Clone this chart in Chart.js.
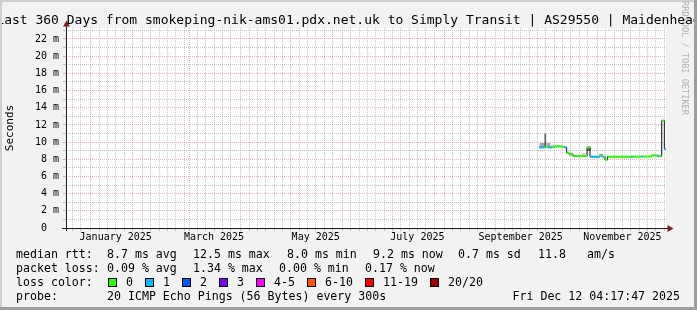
<!DOCTYPE html>
<html><head><meta charset="utf-8">
<script src="https://cdn.jsdelivr.net/npm/chart.js@4.4.1/dist/chart.umd.min.js"></script>
<style>html,body{margin:0;padding:0;background:#f2f2f2;overflow:hidden}#wrap{width:697px;height:310px;position:relative}canvas{display:block}</style>
</head><body><div id="wrap"><canvas id="c" width="697" height="310"></canvas></div>
<script>
// ---------- content ----------
const titleText = 'Last 360 Days from smokeping-nik-ams01.pdx.net.uk to Simply Transit | AS29550 | Maidenhead';
const yAxisTitle = 'Seconds';
const rangeStart = '2024-12-17T04:17:47Z';
const rangeEnd = '2025-12-12T04:17:47Z';
const monthStarts = ['2025-01-01','2025-02-01','2025-03-01','2025-04-01','2025-05-01','2025-06-01','2025-07-01','2025-08-01','2025-09-01','2025-10-01','2025-11-01','2025-12-01'];
const minorGridDays = [6, 11, 16, 21, 26];
const monthLabels = ['January 2025','March 2025','May 2025','July 2025','September 2025','November 2025'];
const monthLabelDates = ['2025-01-16','2025-03-16','2025-05-16','2025-07-16','2025-09-16','2025-11-16'];
const yTickValues = [0,2,4,6,8,10,12,14,16,18,20,22];
const yTickLabels = ['0\u00a0\u00a0','2 m','4 m','6 m','8 m','10 m','12 m','14 m','16 m','18 m','20 m','22 m'];
const yMaxMs = 23.28;

// median rtt (ms) per sample, and lost pings (of 20)
const sampleTimes = ['2025-09-27T00:00','2025-09-30T14:00','2025-10-02T09:00','2025-10-04T19:00','2025-10-06T14:00','2025-10-10T19:00','2025-10-12T07:00','2025-10-13T14:00','2025-10-15T00:00','2025-10-17T09:00','2025-10-25T19:00','2025-10-27T14:00','2025-11-02T14:00','2025-11-04T09:00','2025-11-05T14:00','2025-11-07T02:00','2025-11-21T04:00','2025-11-22T02:00','2025-11-27T04:00','2025-11-28T09:00','2025-12-03T19:00','2025-12-06T19:00','2025-12-07T23:30','2025-12-09T14:30','2025-12-11T04:00'];
const medianMs = [9.38,9.42,9.38,9.44,9.50,9.46,9.38,8.75,8.58,8.38,9.35,8.30,8.34,8.30,7.95,8.30,8.30,8.31,8.32,8.32,8.45,8.40,8.35,12.5,9.2];
const lossCount = [1,0,1,0,0,0,1,0,0,0,0,1,0,1,0,0,1,0,1,0,0,1,0,0,1];

// smoke (spread of pings)
const smokeTimes = ['2025-09-28T11:30','2025-09-29T16:20','2025-10-02T16:20','2025-10-05T09:00','2025-10-07T04:20','2025-10-16T04:20','2025-10-23T16:20','2025-10-26T20:40','2025-11-03T04:20'];
const smokeLow  = [9.40,9.40,9.40,9.46,9.46,8.46,8.38,9.00,8.38];
const smokeHigh = [9.86,9.86,9.86,9.66,9.66,8.77,8.70,9.45,8.61];
const smokeCount = [6,6,6,3,3,3,3,10,6];
const spikeTimes = ['2025-09-30T18:15'];
const spikeLow = [9.40];
const spikeHigh = [10.94];

// legend / stats
const rttStats = ['8.7','12.5','8.0','9.2','0.7','11.8'];
const lossStats = ['0.09','1.34','0.00','0.17'];
const lossLegendLabels = ['0','1','2','3','4-5','6-10','11-19','20/20'];
const lossBuckets = [[0,0],[1,1],[2,2],[3,3],[4,5],[6,10],[11,19],[20,20]];
const lossColors = ['#26ff00','#00b8ff','#0059ff','#7e00ff','#ff00ff','#ff5500','#ff0000','#a10000'];
const probeText = '20 ICMP Echo Pings (56 Bytes) every 300s';
const stampText = 'Fri Dec 12 04:17:47 2025';

// ---------- build ----------
const T = s => Date.parse(s.length === 10 ? s + 'T00:00:00Z' : (s.endsWith('Z') ? s : s + ':00Z'));
const xMin = T(rangeStart), xMax = T(rangeEnd);
const majorX = monthStarts.map(T);
const labelX = monthLabelDates.map(T);
const minorX = [];
['2024-12-01'].concat(monthStarts).forEach(m => {
  const y = +m.slice(0, 4), mo = +m.slice(5, 7) - 1;
  minorGridDays.forEach(d => {
    const v = Date.UTC(y, mo, d);
    if (v > xMin && v < xMax) minorX.push(v);
  });
});
const minorY = [];
for (let v = 1; v < yMaxMs; v += 2) minorY.push(v);

function lossColor(n) {
  for (let i = 0; i < lossBuckets.length; i++) if (n >= lossBuckets[i][0] && n <= lossBuckets[i][1]) return lossColors[i];
  return '#000';
}
function smokeShade(n) { return n >= 9 ? '#6e6e6e' : n >= 5 ? '#a4a4a4' : '#cdcdcd'; }

const ts = sampleTimes.map(T);
const connectData = ts.map((t, i) => ({x: t, y: medianMs[i]}));
connectData.push({x: xMax, y: medianMs[medianMs.length - 1]});
const pieceData = [];
ts.forEach((t, i) => {
  const e = i + 1 < ts.length ? ts[i + 1] : xMax;
  pieceData.push({x: t, y: medianMs[i]}, {x: e, y: medianMs[i]}, {x: e, y: null});
});
const smokeData = smokeTimes.map((t, i) => ({x: T(t), y: [smokeLow[i], smokeHigh[i]]}));
const spikeData = spikeTimes.map((t, i) => ({x: T(t), y: [spikeLow[i], spikeHigh[i]]}));

const FONT = '"DejaVu Sans Mono", "Liberation Mono", monospace';
const MINOR = 'rgba(143,143,143,0.5)';
const MAJOR = 'rgba(222,79,79,0.42)';

const decor = {
  id: 'decor',
  beforeDraw(chart) {
    const ctx = chart.ctx, a = chart.chartArea;
    ctx.save();
    ctx.fillStyle = '#f2f2f2'; ctx.fillRect(0, 0, chart.width, chart.height);
    ctx.fillStyle = '#ffffff'; ctx.fillRect(a.left, a.top, a.right - a.left, a.bottom - a.top);
    ctx.restore();
  },
  afterDraw(chart) {
    const ctx = chart.ctx, a = chart.chartArea;
    ctx.save();
    ctx.strokeStyle = '#1f1f1f'; ctx.lineWidth = 1;
    ctx.beginPath();
    ctx.moveTo(a.left + 0.5, a.bottom + 3); ctx.lineTo(a.left + 0.5, a.top - 2);
    ctx.moveTo(a.left - 4, a.bottom + 0.5); ctx.lineTo(a.right + 2, a.bottom + 0.5);
    ctx.stroke();
    ctx.fillStyle = '#801f1f';
    ctx.beginPath();
    ctx.moveTo(a.left - 3, a.top - 1.5); ctx.lineTo(a.left + 4, a.top - 1.5); ctx.lineTo(a.left + 0.5, a.top - 7.5); ctx.closePath(); ctx.fill();
    ctx.beginPath();
    ctx.moveTo(a.right + 1.5, a.bottom - 3); ctx.lineTo(a.right + 1.5, a.bottom + 4); ctx.lineTo(a.right + 7.5, a.bottom + 0.5); ctx.closePath(); ctx.fill();

    ctx.save();
    ctx.translate(684, 58); ctx.rotate(Math.PI / 2);
    ctx.font = '8.6px ' + FONT; ctx.fillStyle = 'rgba(0,0,0,0.28)';
    ctx.textAlign = 'center'; ctx.textBaseline = 'middle';
    ctx.fillText('RRDTOOL / TOBI OETIKER', 0, 0);
    ctx.restore();

    ctx.fillStyle = '#000';
    ctx.font = '13px ' + FONT; ctx.textAlign = 'center'; ctx.textBaseline = 'alphabetic';
    ctx.fillText(titleText, 348.5, 24);

    ctx.font = '11.6px ' + FONT; ctx.textAlign = 'left';
    const put = (items, y) => items.forEach(([s, x]) => ctx.fillText(s, x, y));
    put([['median rtt:', 16], [rttStats[0] + ' ms avg', 107], [rttStats[1] + ' ms max', 193], [rttStats[2] + ' ms min', 287],
         [rttStats[3] + ' ms now', 373], [rttStats[4] + ' ms sd', 458], [rttStats[5], 538], ['am/s', 587]], 258);
    put([['packet loss:', 16], [lossStats[0] + ' % avg', 107], [lossStats[1] + ' % max', 193], [lossStats[2] + ' % min', 279],
         [lossStats[3] + ' % now', 365]], 272);
    put([['loss color:', 16]], 286);
    let bx = 108;
    lossLegendLabels.forEach((lab, i) => {
      ctx.fillStyle = lossColors[i]; ctx.fillRect(bx, 278, 9, 9);
      ctx.strokeStyle = '#000'; ctx.lineWidth = 1; ctx.strokeRect(bx + 0.5, 278.5, 8, 8);
      ctx.fillStyle = '#000'; ctx.fillText(lab, bx + 18, 286);
      bx += 30 + 7 * lab.length;
    });
    put([['probe:', 16], [probeText, 107]], 300);
    ctx.textAlign = 'right'; ctx.fillText(stampText, 680, 300);

    ctx.fillStyle = '#cfcfcf';
    ctx.fillRect(0, 0, chart.width, 2); ctx.fillRect(0, 0, 2, chart.height);
    ctx.fillStyle = '#9e9e9e';
    ctx.fillRect(chart.width - 3, 0, 3, chart.height); ctx.fillRect(0, chart.height - 3, chart.width, 3);
    ctx.restore();
  }
};

const gridAxis = (pos, vals, color, weight, tick) => ({
  type: 'linear', position: pos, weight, offset: false,
  min: pos === 'bottom' ? xMin : 0, max: pos === 'bottom' ? xMax : yMaxMs,
  afterBuildTicks(s) { s.ticks = vals.map(v => ({value: v})); },
  afterFit(s) { if (pos === 'bottom') s.height = 0; else s.width = 0; },
  ticks: {display: false},
  grid: {offset: false, color, lineWidth: 1, drawTicks: true, tickLength: tick, tickColor: color},
  border: {display: false, dash: [1, 1]}
});

new Chart(document.getElementById('c'), {
  type: 'line',
  data: {
    datasets: [
      {type: 'bar', data: smokeData, xAxisID: 'x', yAxisID: 'y', grouped: false, barThickness: 3, borderWidth: 0,
       backgroundColor: c => smokeShade(smokeCount[c.dataIndex]), order: 4},
      {type: 'bar', data: spikeData, xAxisID: 'x', yAxisID: 'y', grouped: false, barThickness: 1, borderWidth: 0,
       backgroundColor: '#5a5a5a', order: 3},
      {type: 'line', data: connectData, xAxisID: 'x', yAxisID: 'y', stepped: true, borderColor: '#111', borderWidth: 1,
       pointRadius: 0, fill: false, order: 2},
      {type: 'line', data: pieceData, xAxisID: 'x', yAxisID: 'y', borderWidth: 2, borderCapStyle: 'butt', pointRadius: 0,
       fill: false, spanGaps: false, borderColor: lossColors[0],
       segment: {borderColor: c => lossColor(lossCount[Math.floor(c.p0DataIndex / 3)])}, order: 1}
    ]
  },
  options: {
    responsive: false, animation: false, events: [],
    layout: {padding: {left: 0, top: 28, right: 31, bottom: 0}},
    plugins: {legend: {display: false}, tooltip: {enabled: false}, title: {display: false}},
    scales: {
      xm: gridAxis('bottom', minorX, MINOR, 0, 3),
      x: gridAxis('bottom', majorX, MAJOR, 1, 3),
      xl: {
        type: 'linear', position: 'bottom', weight: 2, min: xMin, max: xMax, offset: false,
        afterBuildTicks(s) { s.ticks = labelX.map(v => ({value: v})); },
        afterFit(s) { s.height = 82; },
        grid: {display: false, drawTicks: false, offset: false}, border: {display: false},
        ticks: {autoSkip: false, maxRotation: 0, minRotation: 0, padding: 3, color: '#000',
                font: {family: FONT, size: 10}, callback: (v, i) => monthLabels[i]}
      },
      ym: gridAxis('left', minorY, MINOR, 0, 3),
      y: {
        type: 'linear', position: 'left', weight: 1, min: 0, max: yMaxMs,
        afterBuildTicks(s) { s.ticks = yTickValues.map(v => ({value: v})); },
        afterFit(s) { s.width = 66; },
        grid: {color: MAJOR, lineWidth: 1, drawTicks: true, tickLength: 3, tickColor: MAJOR},
        border: {display: false, dash: [1, 1]},
        ticks: {autoSkip: false, padding: 4, color: '#000', font: {family: FONT, size: 10},
                callback: (v, i) => yTickLabels[i]},
        title: {display: true, text: yAxisTitle, color: '#000', font: {family: FONT, size: 11}, padding: {top: 4, bottom: 0}}
      }
    }
  },
  plugins: [decor]
});
</script>
</body></html>
